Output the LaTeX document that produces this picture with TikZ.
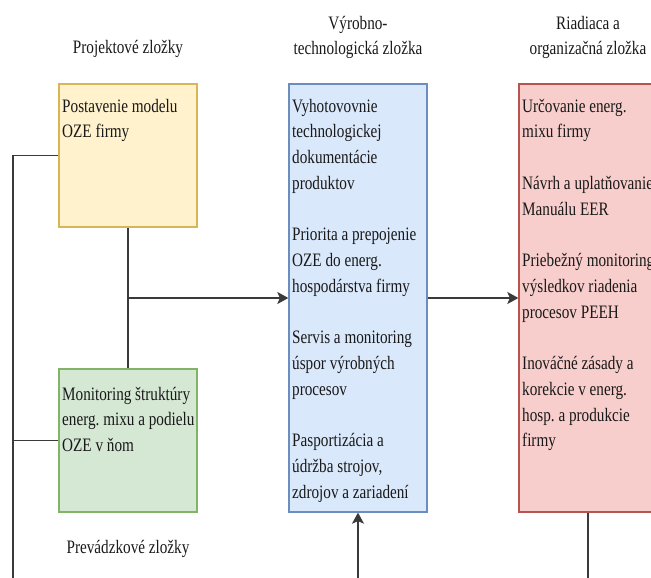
\documentclass[tikz,border=0pt]{standalone}
\usepackage{fontspec}
\setmainfont[FakeStretch=0.8]{Liberation Serif}
\usetikzlibrary{arrows.meta}
\frenchspacing
\newcommand\dgfont{\fontsize{19}{25.75}\selectfont\frenchspacing}
\newcommand\fr{\rule{0pt}{18pt}}
\definecolor{yfill}{HTML}{FFF2CC}\definecolor{ydraw}{HTML}{D6B656}
\definecolor{gfill}{HTML}{D5E8D4}\definecolor{gdraw}{HTML}{82B366}
\definecolor{bfill}{HTML}{DAE8FC}\definecolor{bdraw}{HTML}{6C8EBF}
\definecolor{rfill}{HTML}{F8CECC}\definecolor{rdraw}{HTML}{B85450}
\definecolor{lnc}{HTML}{3A3A3A}
\tikzset{
  boxst/.style={draw, line width=1.3pt, inner sep=0, minimum width=138pt},
  txt/.style={inner sep=0, anchor=north west, align=left, font=\dgfont, text=black!90},
  ttl/.style={inner sep=0, anchor=north, align=center, font=\dgfont, text=black!90},
  ln/.style={draw=lnc, line width=1.6pt},
  arr/.style={ln, -{Stealth[length=11pt,width=12pt,inset=2.5pt]}}
}
\begin{document}
\begin{tikzpicture}[x=1pt,y=-1pt]
\useasboundingbox (0,0) rectangle (651,578);
\clip (0,0) rectangle (651,578);
% boxes
\node[boxst, fill=yfill, draw=ydraw, minimum height=143pt] (yel) at (128,155.5) {};
\node[boxst, fill=gfill, draw=gdraw, minimum height=143pt] (grn) at (128,440.5) {};
\node[boxst, fill=bfill, draw=bdraw, minimum height=428pt] (blu) at (358,298) {};
\node[boxst, fill=rfill, draw=rdraw, minimum height=428pt] (red) at (588,298) {};
% titles
\node[ttl] (t1) at (128,35) {\fr Projektové zložky};
\node[ttl] (t2) at (358,11) {\fr Výrobno-\\technologická zložka};
\node[ttl] (t3) at (588,11) {\fr Riadiaca a\\organizačná zložka};
\node[ttl] (t4) at (128,535) {\fr Prevádzkové zložky};
% texts
\node[txt] (yt) at (62,94) {\fr Postavenie modelu\\OZE firmy};
\node[txt] (gt) at (62,382) {\fr Monitoring štruktúry\\energ. mixu a podielu\\OZE v ňom};
\node[txt] (bt) at (292,94) {\fr Vyhotovovnie\\technologickej\\dokumentácie\\produktov\\[25.75pt]
Priorita a prepojenie\\OZE do energ.\\hospodárstva firmy\\[25.75pt]
Servis a monitoring\\úspor výrobných\\procesov\\[25.75pt]
Pasportizácia a\\údržba strojov,\\zdrojov a zariadení};
\node[txt] (rt) at (522,94) {\fr Určovanie energ.\\mixu firmy\\[25.75pt]
Návrh a uplatňovanie\\Manuálu EER\\[25.75pt]
Priebežný monitoring\\výsledkov riadenia\\procesov PEEH\\[25.75pt]
Inováčné zásady a\\korekcie v energ.\\hosp. a produkcie\\firmy};
% connectors
\coordinate (busb) at (13,578);
\coordinate (blin) at (358,578);
\coordinate (redout) at (588,578);
\draw[ln] (yel.west) -| (busb);
\draw[ln] (grn.west) -- (grn.west -| busb);
\draw[ln] (yel.south) -- (grn.north);
\draw[arr] (yel.south |- blu.west) -- (blu.west);
\draw[arr] (blu.east) -- (red.west);
\draw[arr] (blin) -- (blu.south);
\draw[ln] (red.south) -- (redout);
\end{tikzpicture}
\end{document}
